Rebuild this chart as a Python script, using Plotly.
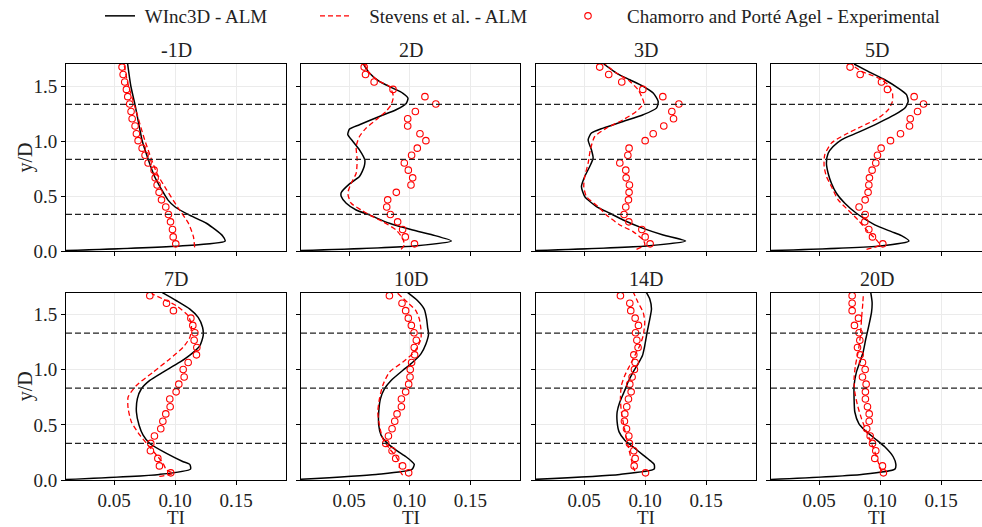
import plotly.graph_objects as go

# ---------------- data ----------------
STATIONS = ["-1D", "2D", "3D", "5D", "7D", "10D", "14D", "20D"]
TURBINE_LEVELS = [0.333, 0.833, 1.333]
X_TICKS = [0.05, 0.10, 0.15]
Y_TICKS = [0.0, 0.5, 1.0, 1.5]

# experimental heights (shared by all stations)
EXP_Y = [0.065, 0.128, 0.196, 0.265, 0.332, 0.400, 0.465, 0.533, 0.600, 0.665,
         0.735, 0.800, 0.870, 0.935, 1.003, 1.066, 1.136, 1.202, 1.268, 1.337,
         1.403, 1.469, 1.537, 1.604, 1.672]

# ---- -1D ----
winc_y_m1 = [0.0, 0.046, 0.09, 0.137, 0.25, 0.33, 0.40, 0.465, 0.556, 0.68, 0.83, 1.0, 1.333, 1.5, 1.70]
winc_ti_m1 = [0.0, 0.104, 0.141, 0.139, 0.126, 0.111, 0.100, 0.094, 0.089, 0.083, 0.078, 0.073, 0.067, 0.0636, 0.061]
stev_y_m1 = [0.033, 0.13, 0.25, 0.40, 0.556, 0.707, 1.01, 1.31, 1.53, 1.70]
stev_ti_m1 = [0.116, 0.115, 0.111, 0.102, 0.093, 0.085, 0.075, 0.067, 0.061, 0.058]
exp_ti_m1 = [0.1005, 0.0984, 0.0978, 0.0962, 0.0945, 0.0923, 0.0888, 0.0868, 0.0852, 0.0836,
             0.0827, 0.0778, 0.0753, 0.0729, 0.0696, 0.0682, 0.0671, 0.0647, 0.0638, 0.0627,
             0.0611, 0.0600, 0.0586, 0.0573, 0.0564]

# ---- 2D ----
winc_y_2 = [0.0, 0.046, 0.091, 0.146, 0.191, 0.252, 0.328, 0.373, 0.434, 0.495, 0.531, 0.610, 0.677,
            0.768, 0.829, 0.920, 0.996, 1.057, 1.108, 1.148, 1.223, 1.284, 1.339, 1.39, 1.436, 1.481,
            1.542, 1.618, 1.70]
winc_ti_2 = [0.0, 0.104, 0.1345, 0.119, 0.1025, 0.0833, 0.0668, 0.0559, 0.0477, 0.0436, 0.0436, 0.0504, 0.0586,
             0.0625, 0.063, 0.0586, 0.0532, 0.049, 0.0504, 0.0586, 0.075, 0.0888, 0.097, 0.0986, 0.0942, 0.086,
             0.075, 0.0668, 0.0619]
stev_y_2 = [0.015, 0.055, 0.115, 0.191, 0.267, 0.328, 0.373, 0.434, 0.525, 0.616, 0.707, 0.829, 0.950,
            1.041, 1.117, 1.193, 1.269, 1.33, 1.406, 1.497, 1.542, 1.618, 1.70]
stev_ti_2 = [0.0929, 0.0956, 0.0942, 0.0888, 0.0778, 0.0668, 0.060, 0.0518, 0.049, 0.0518, 0.0559, 0.0567, 0.0559,
             0.0586, 0.064, 0.0723, 0.0805, 0.0847, 0.0866, 0.0833, 0.075, 0.0668, 0.0625]
exp_ti_2 = [0.104, 0.0964, 0.0942, 0.0901, 0.0841, 0.0811, 0.0819, 0.0890, 0.1011, 0.1025,
            0.0989, 0.0956, 0.1016, 0.1063, 0.1134, 0.1085, 0.0984, 0.0984, 0.1047, 0.1216,
            0.1126, 0.0863, 0.0707, 0.0636, 0.0625]

# ---- 3D ----
winc_y_3 = [0.0, 0.046, 0.091, 0.146, 0.206, 0.282, 0.343, 0.404, 0.495, 0.586, 0.677, 0.768, 0.844,
            0.920, 1.011, 1.072, 1.117, 1.178, 1.239, 1.299, 1.36, 1.436, 1.497, 1.557, 1.618, 1.70]
winc_ti_3 = [0.0, 0.101, 0.1332, 0.1148, 0.0984, 0.082, 0.071, 0.060, 0.0504, 0.0477, 0.0504, 0.0545, 0.0573,
             0.0559, 0.0532, 0.0559, 0.0655, 0.0819, 0.0984, 0.1093, 0.1107, 0.1066, 0.0984, 0.0874, 0.0764, 0.066]
stev_y_3 = [0.015, 0.055, 0.10, 0.176, 0.237, 0.328, 0.404, 0.495, 0.586, 0.677, 0.798, 0.920, 1.041,
            1.117, 1.193, 1.269, 1.345, 1.406, 1.466, 1.542, 1.618, 1.70]
stev_ti_3 = [0.0929, 0.0997, 0.0984, 0.0901, 0.0792, 0.0682, 0.0614, 0.0518, 0.0496, 0.0504, 0.0532, 0.055, 0.0586,
             0.0682, 0.0819, 0.0929, 0.0989, 0.097, 0.0942, 0.0874, 0.0764, 0.067]
exp_ti_3 = [0.1041, 0.1000, 0.0973, 0.0866, 0.0827, 0.0841, 0.0863, 0.0868, 0.0871, 0.0844,
            0.0841, 0.0792, 0.0858, 0.0868, 0.1000, 0.1066, 0.1153, 0.1233, 0.1219, 0.1277,
            0.1145, 0.0981, 0.0808, 0.0701, 0.0627]

# ---- 5D ----
winc_y_5 = [0.0, 0.046, 0.091, 0.140, 0.176, 0.237, 0.343, 0.434, 0.525, 0.616, 0.707, 0.798, 0.889,
            0.950, 1.011, 1.078, 1.163, 1.239, 1.299, 1.36, 1.421, 1.481, 1.557, 1.633, 1.70]
winc_ti_5 = [0.0, 0.100, 0.1236, 0.1175, 0.1093, 0.0956, 0.0805, 0.071, 0.0641, 0.060, 0.0573, 0.0559, 0.0573,
             0.0614, 0.0682, 0.0819, 0.0984, 0.112, 0.1203, 0.123, 0.1216, 0.1148, 0.1038, 0.0901, 0.0786]
stev_y_5 = [0.015, 0.055, 0.10, 0.176, 0.282, 0.373, 0.465, 0.586, 0.677, 0.768, 0.874, 0.981, 1.057,
            1.132, 1.208, 1.284, 1.36, 1.436, 1.512, 1.573, 1.633, 1.685]
stev_ti_5 = [0.0888, 0.0997, 0.097, 0.0901, 0.0819, 0.0737, 0.0655, 0.060, 0.0559, 0.054, 0.0545, 0.060, 0.071,
             0.0847, 0.0984, 0.1066, 0.1101, 0.1101, 0.1066, 0.0984, 0.0847, 0.0775]
exp_ti_5 = [0.1022, 0.0937, 0.0907, 0.0874, 0.0877, 0.0827, 0.0877, 0.0901, 0.0907, 0.0912,
            0.0934, 0.0964, 0.0978, 0.1008, 0.1085, 0.1167, 0.1241, 0.1247, 0.1307, 0.1356,
            0.1279, 0.1060, 0.1011, 0.0836, 0.0753]

# ---- 7D ----
winc_y_7 = [0.0, 0.051, 0.099, 0.142, 0.166, 0.241, 0.331, 0.407, 0.497, 0.617, 0.738, 0.828, 0.904,
            0.979, 1.069, 1.145, 1.220, 1.310, 1.386, 1.476, 1.551, 1.627, 1.70]
winc_ti_7 = [0.0, 0.087, 0.1126, 0.112, 0.1066, 0.0929, 0.0792, 0.0737, 0.0704, 0.0682, 0.069, 0.0723, 0.0792,
             0.0901, 0.1038, 0.1134, 0.1203, 0.123, 0.1225, 0.1189, 0.1121, 0.1011, 0.0895]
stev_y_7 = [0.033, 0.06, 0.090, 0.151, 0.226, 0.316, 0.407, 0.527, 0.648, 0.753, 0.858, 0.979, 1.099,
            1.205, 1.295, 1.401, 1.491, 1.581, 1.642, 1.69]
stev_ti_7 = [0.087, 0.0984, 0.0929, 0.0901, 0.0847, 0.0778, 0.071, 0.0641, 0.0614, 0.0614, 0.0682, 0.0819, 0.0956,
             0.1066, 0.1121, 0.1134, 0.1107, 0.1011, 0.0901, 0.081]
exp_ti_7 = [0.0964, 0.0871, 0.0858, 0.0797, 0.0800, 0.0830, 0.0882, 0.0899, 0.0923, 0.0959,
            0.0956, 0.1008, 0.1030, 0.1074, 0.1066, 0.1107, 0.1175, 0.1178, 0.1156, 0.1162,
            0.1145, 0.1129, 0.0986, 0.0929, 0.0792]

# ---- 10D ----
winc_y_10 = [0.0, 0.051, 0.096, 0.142, 0.166, 0.211, 0.271, 0.346, 0.407, 0.497, 0.617, 0.738, 0.828,
             0.904, 0.994, 1.069, 1.145, 1.235, 1.325, 1.386, 1.461, 1.551, 1.627, 1.70]
winc_ti_10 = [0.0, 0.0723, 0.1019, 0.1038, 0.1019, 0.097, 0.0888, 0.0805, 0.0764, 0.0745, 0.0745, 0.0759, 0.0792,
              0.0847, 0.0942, 0.1025, 0.1093, 0.1134, 0.1156, 0.1148, 0.114, 0.112, 0.1066, 0.0984]
stev_y_10 = [0.045, 0.090, 0.151, 0.211, 0.286, 0.377, 0.497, 0.617, 0.738, 0.858, 0.979, 1.069, 1.160,
             1.280, 1.370, 1.461, 1.536, 1.611, 1.70]
stev_ti_10 = [0.0942, 0.0915, 0.0915, 0.0888, 0.0833, 0.0778, 0.0751, 0.0737, 0.0751, 0.0778, 0.0833, 0.0942, 0.1038,
              0.1093, 0.1093, 0.108, 0.1052, 0.0984, 0.0895]
exp_ti_10 = [0.0992, 0.0942, 0.0885, 0.0855, 0.0803, 0.0825, 0.0855, 0.0877, 0.0896, 0.0932,
             0.0932, 0.0967, 0.0992, 0.1003, 0.1005, 0.1016, 0.1041, 0.1038, 0.1055, 0.1036,
             0.1014, 0.0989, 0.0967, 0.0937, 0.0833]

# ---- 14D ----
winc_y_14 = [0.0, 0.051, 0.099, 0.142, 0.166, 0.226, 0.301, 0.361, 0.437, 0.527, 0.617, 0.708, 0.798,
             0.889, 0.979, 1.054, 1.130, 1.220, 1.340, 1.461, 1.551, 1.642, 1.70]
winc_ti_14 = [0.0, 0.0792, 0.1074, 0.1074, 0.1052, 0.0984, 0.0901, 0.0833, 0.0786, 0.077, 0.077, 0.0792, 0.0827,
              0.086, 0.0901, 0.0942, 0.0978, 0.0997, 0.1016, 0.1038, 0.1052, 0.1038, 0.1011]
stev_y_14 = [0.081, 0.120, 0.181, 0.271, 0.377, 0.497, 0.617, 0.738, 0.858, 0.949, 1.039, 1.130, 1.220,
             1.310, 1.431, 1.521, 1.611, 1.70]
stev_ti_14 = [0.0915, 0.0901, 0.0888, 0.0868, 0.0847, 0.0825, 0.0805, 0.0797, 0.0805, 0.0833, 0.0874, 0.0915, 0.0956,
              0.0984, 0.0997, 0.0984, 0.0942, 0.0905]
exp_ti_14 = [0.1003, 0.0910, 0.0918, 0.0907, 0.0871, 0.0866, 0.0847, 0.0830, 0.0833, 0.0849,
             0.0863, 0.0885, 0.0874, 0.0893, 0.0912, 0.0918, 0.0907, 0.0942, 0.0932, 0.0921,
             0.0945, 0.0918, 0.0882, 0.0874, 0.0797]

# ---- 20D ----
winc_y_20 = [0.0, 0.051, 0.099, 0.142, 0.211, 0.301, 0.377, 0.452, 0.512, 0.617, 0.738, 0.858, 0.979,
             1.069, 1.160, 1.280, 1.401, 1.521, 1.611, 1.70]
winc_ti_20 = [0.0, 0.0847, 0.1121, 0.1129, 0.1107, 0.1038, 0.0956, 0.0874, 0.0825, 0.0792, 0.0786, 0.0786, 0.0805,
              0.0833, 0.086, 0.0882, 0.0907, 0.0929, 0.0934, 0.0923]
stev_y_20 = [0.075, 0.120, 0.181, 0.256, 0.346, 0.437, 0.557, 0.678, 0.798, 0.919, 1.039, 1.160, 1.310,
             1.461, 1.611, 1.70]
stev_ti_20 = [0.1011, 0.0997, 0.0978, 0.0956, 0.0923, 0.0888, 0.0847, 0.0814, 0.0792, 0.0786, 0.0797, 0.0819, 0.0838,
              0.0847, 0.0858, 0.0863]
exp_ti_20 = [0.1027, 0.1019, 0.0956, 0.0964, 0.0937, 0.0918, 0.0890, 0.0910, 0.0910, 0.0896,
             0.0879, 0.0879, 0.0885, 0.0855, 0.0877, 0.0855, 0.0836, 0.0814, 0.0833, 0.0827,
             0.0789, 0.0822, 0.0770, 0.0770, 0.0770]

WINC = [(winc_ti_m1, winc_y_m1), (winc_ti_2, winc_y_2), (winc_ti_3, winc_y_3), (winc_ti_5, winc_y_5),
        (winc_ti_7, winc_y_7), (winc_ti_10, winc_y_10), (winc_ti_14, winc_y_14), (winc_ti_20, winc_y_20)]
STEV = [(stev_ti_m1, stev_y_m1), (stev_ti_2, stev_y_2), (stev_ti_3, stev_y_3), (stev_ti_5, stev_y_5),
        (stev_ti_7, stev_y_7), (stev_ti_10, stev_y_10), (stev_ti_14, stev_y_14), (stev_ti_20, stev_y_20)]
EXP = [exp_ti_m1, exp_ti_2, exp_ti_3, exp_ti_5, exp_ti_7, exp_ti_10, exp_ti_14, exp_ti_20]

# ---------------- layout / style ----------------
W, H = 982, 527
FONT = "Liberation Serif"
TXT = "#222222"
NB = "\u00a0"
COL_PX = [(66, 286), (301, 520), (536, 756), (771, 982)]
ROW_PX = [(64, 251), (292.7, 480)]
X_RANGE = [0.0104, 0.191]
X_RANGE_LAST = [0.0104, 0.1836]
Y_RANGE = [0.0, 1.7]
GRID = "#ebebeb"

fig = go.Figure()
layout = {}

for i, name in enumerate(STATIONS):
    r, c = divmod(i, 4)
    n = i + 1
    xa = "x" if n == 1 else f"x{n}"
    ya = "y" if n == 1 else f"y{n}"
    first = (i == 0)

    wx, wy = WINC[i]
    sx, sy = STEV[i]
    fig.add_trace(go.Scatter(x=wx, y=wy, xaxis=xa, yaxis=ya, mode="lines",
                             line=dict(color="black", width=1.5, shape="spline", smoothing=0.6),
                             name=NB + "WInc3D - ALM", showlegend=first, legend="legend"))
    fig.add_trace(go.Scatter(x=sx, y=sy, xaxis=xa, yaxis=ya, mode="lines",
                             line=dict(color="red", width=1.3, dash="5px,3px", shape="spline", smoothing=0.6),
                             name=NB * 3 + "Stevens et al. - ALM", showlegend=first, legend="legend2"))
    fig.add_trace(go.Scatter(x=EXP[i], y=EXP_Y, xaxis=xa, yaxis=ya, mode="markers",
                             marker=dict(symbol="circle-open", size=6.5, color="red", line=dict(width=1.1)),
                             name=NB * 4 + "Chamorro and Porté Agel - Experimental", showlegend=first,
                             legend="legend3"))

    for lev in TURBINE_LEVELS:
        fig.add_shape(type="line", xref=f"{xa} domain", yref=ya, x0=0, x1=1, y0=lev, y1=lev,
                      line=dict(color="#222222", width=1.3, dash="6px,3px"), layer="above")

    x0, x1 = COL_PX[c]
    ytop, ybot = ROW_PX[r]
    xkey = "xaxis" if n == 1 else f"xaxis{n}"
    ykey = "yaxis" if n == 1 else f"yaxis{n}"
    layout[xkey] = dict(
        domain=[x0 / W, x1 / W], anchor=ya, automargin=False,
        range=X_RANGE_LAST if c == 3 else X_RANGE,
        tickvals=X_TICKS, ticktext=[f"{v:.2f}" for v in X_TICKS],
        showticklabels=(r == 1), ticks="outside", ticklen=4, tickwidth=1, tickcolor="black",
        ticklabelstandoff=-1,
        showgrid=True, gridcolor=GRID, gridwidth=1, zeroline=False,
        showline=True, linecolor="black", linewidth=1, mirror=True,
        tickfont=dict(family=FONT, size=19, color=TXT),
    )
    layout[ykey] = dict(
        domain=[1 - ybot / H, 1 - ytop / H], anchor=xa, automargin=False,
        range=Y_RANGE,
        tickvals=Y_TICKS, ticktext=[f"{v:.1f}" for v in Y_TICKS],
        showticklabels=(c == 0), ticks="outside", ticklen=4, tickwidth=1, tickcolor="black",
        showgrid=True, gridcolor=GRID, gridwidth=1, zeroline=False,
        showline=True, linecolor="black", linewidth=1, mirror=(c != 3),
        tickfont=dict(family=FONT, size=19, color=TXT),
    )
    # panel title
    fig.add_annotation(text=name, xref=f"{xa} domain", yref=f"{ya} domain", x=0.5, y=1.0,
                       xanchor="center", yanchor="bottom", yshift=1, showarrow=False,
                       font=dict(family=FONT, size=20, color=TXT))
    # axis titles
    if r == 1:
        fig.add_annotation(text="TI", xref=f"{xa} domain", yref=f"{ya} domain", x=0.5, y=0.0,
                           xanchor="center", yanchor="middle", yshift=-37, showarrow=False,
                           font=dict(family=FONT, size=19, color=TXT))
    if c == 0:
        fig.add_annotation(text="y/D", xref=f"{xa} domain", yref=f"{ya} domain", x=0.0, y=0.5,
                           xanchor="center", yanchor="middle", xshift=-41, textangle=-90,
                           showarrow=False, font=dict(family=FONT, size=20, color=TXT))

LEG = dict(orientation="h", yanchor="middle", xanchor="left", y=1 - 16 / H,
           bgcolor="rgba(0,0,0,0)", font=dict(family=FONT, size=19, color=TXT))
layout["legend"] = dict(LEG, x=100 / W)
layout["legend2"] = dict(LEG, x=315 / W)
layout["legend3"] = dict(LEG, x=568 / W)

fig.update_layout(width=W, height=H, margin=dict(l=0, r=0, t=0, b=0, autoexpand=False),
                  template="none", font=dict(family=FONT, color=TXT),
                  plot_bgcolor="white", paper_bgcolor="white", **layout)

fig.write_html("out.html", config={"displayModeBar": False},
               post_script="document.body.style.margin='0px';document.body.style.padding='0px';document.body.style.overflow='hidden';")
